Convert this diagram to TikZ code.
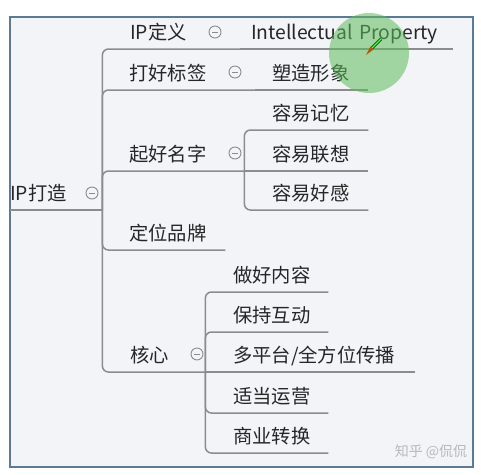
\documentclass[tikz,border=0pt]{standalone}
\usepackage{fontspec}
\setmainfont{Noto Sans CJK SC}
\usepackage{xcolor}
\definecolor{framefill}{HTML}{F3F4F8}
\definecolor{frameline}{HTML}{5B7A94}
\definecolor{branch}{HTML}{8C8C8C}
\definecolor{ink}{HTML}{262626}
\definecolor{cursor}{HTML}{5DBB5A}

\begin{document}
\begin{tikzpicture}[
      x=1pt, y=-1pt,
      font=\fontsize{19.3}{22}\selectfont,
      topic/.style={anchor=south west, inner xsep=0pt, inner ysep=0pt,
                    text height=16pt, text depth=9.5pt, align=left, text=ink},
      link/.style={draw=branch, line width=1.5pt, rounded corners=6pt},
      fold/.style={circle, draw=branch, fill=framefill, line width=0.9pt,
                   minimum size=12pt, inner sep=0pt,
                   path picture={\draw[branch, line width=0.9pt]
                     ([xshift=-3pt]path picture bounding box.center) --
                     ([xshift=3pt]path picture bounding box.center);}},
      watermark/.style={text=gray!55, font=\fontsize{14}{16}\selectfont}]

    \useasboundingbox (0,0) rectangle (481,474);
    \fill[white] (0,0) rectangle (481,474);
    \filldraw[fill=framefill, draw=frameline, line width=2.2pt]
      (10,17) rectangle (473,467);

    % root and first level
    \node[topic, text width=92pt] (root) at (10,210) {IP打造};
    \node[topic, text width=110pt] (def) at (130,49) {IP定义};
    \node[topic, text width=126pt] (tag) at (129,90) {打好标签};
    \node[topic, text width=115pt] (name) at (129,171) {起好名字};
    \node[topic, text width=96pt] (brand) at (129,250) {定位品牌};
    \node[topic, text width=75pt] (core) at (130,372) {核心};

    % second level
    \node[topic, text width=202pt] (prop) at (251,49) {Intellectual Property};
    \node[topic, text width=96pt] (shape) at (272,90) {塑造形象};
    \node[topic, text width=96pt] (mem) at (272,130) {容易记忆};
    \node[topic, text width=96pt] (assoc) at (272,171) {容易联想};
    \node[topic, text width=96pt] (fav) at (272,210) {容易好感};
    \node[topic, text width=95pt] (content) at (233,292) {做好内容};
    \node[topic, text width=95pt] (interact) at (233,332) {保持互动};
    \node[topic, text width=182pt] (spread) at (233,372) {多平台/全方位传播};
    \node[topic, text width=95pt] (operate) at (233,413) {适当运营};
    \node[topic, text width=95pt] (convert) at (233,453) {商业转换};

    \draw[link] (root.south west) -- (root.south east);
    \foreach \t in {def, tag, name, brand, core}
      \draw[link] (root.south east) |- (\t.south west) -- (\t.south east);
    \draw[link] (def.south east) -- (prop.south west) -- (prop.south east);
    \draw[link] (tag.south east) -- (shape.south west) -- (shape.south east);
    \foreach \t in {mem, fav}
      \draw[link] (name.south east) |- (\t.south west) -- (\t.south east);
    \draw[link] (name.south east) -- (assoc.south west) -- (assoc.south east);
    \foreach \t in {content, interact, operate, convert}
      \draw[link] (core.south east) |- (\t.south west) -- (\t.south east);
    \draw[link] (core.south east) -- (spread.south west) -- (spread.south east);

    % collapse buttons
    \node[fold] (rootfold) at (92,193) {};
    \node[fold] (deffold) at (215,32) {};
    \node[fold] (tagfold) at (235,72) {};
    \node[fold] (namefold) at (235,153) {};
    \node[fold] (corefold) at (197,354) {};

    \node[watermark] (zhihu) at (431,452) {知乎 @侃侃};

    % cursor highlight
    \fill[cursor, opacity=0.55] (369,53) circle[radius=40];
    \draw[line width=3pt, green!30!black] (381,39) -- (372,48);
    \draw[line width=1.4pt, green!70] (381,39) -- (372,48);
    \fill[orange!70!black] (373.5,49.5) -- (370.5,46.5) -- (366,55) -- cycle;
  \end{tikzpicture}
\end{document}
